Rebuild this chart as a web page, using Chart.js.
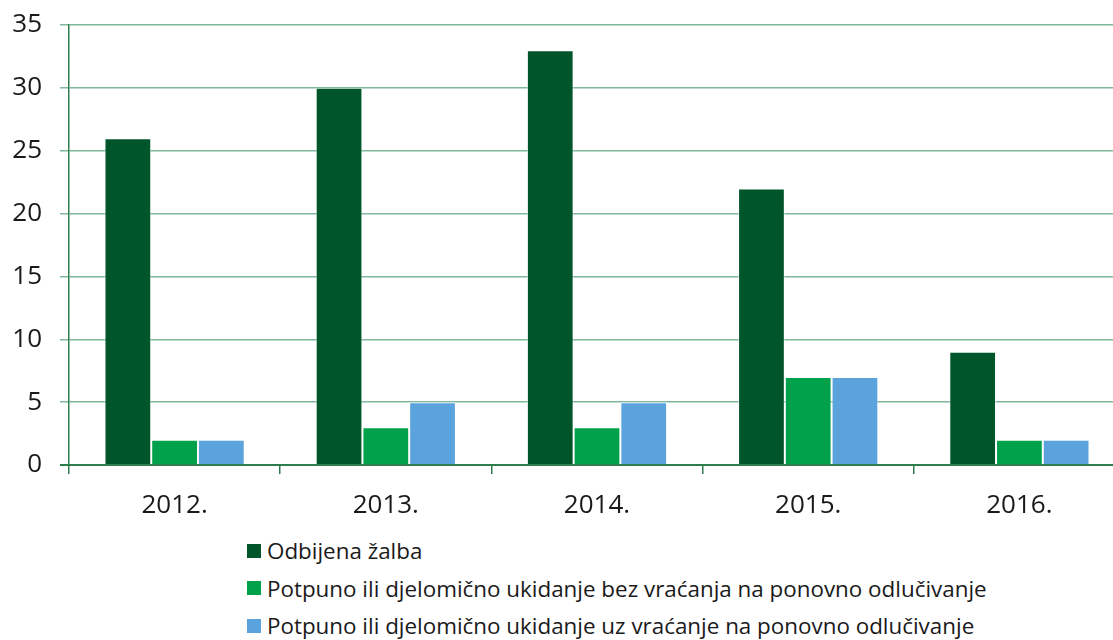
<!DOCTYPE html>
<html>
<head>
<meta charset="utf-8">
<script src="https://cdn.jsdelivr.net/npm/chart.js@4/dist/chart.umd.min.js"></script>
<style>
  html, body { margin: 0; padding: 0; background: #fff; overflow: hidden; }
  #wrap { position: relative; width: 1130px; height: 528px; }
  #legend { position: absolute; left: 247px; top: 532px; font-family: "Open Sans", sans-serif; font-size: 22.4px; color: #1a1a1a; }
  .lg-row { display: flex; align-items: center; height: 37.5px; }
  .lg-box { width: 14px; height: 14px; margin-right: 6px; }
</style>
</head>
<body>
<div id="wrap"><canvas id="chart"></canvas></div>
<div id="legend"></div>
<script>
const years = ['2012.', '2013.', '2014.', '2015.', '2016.'];
const odbijena = [26, 30, 33, 22, 9];
const bezVracanja = [2, 3, 3, 7, 2];
const uzVracanje = [2, 5, 5, 7, 2];
const seriesNames = [
  'Odbijena žalba',
  'Potpuno ili djelomično ukidanje bez vraćanja na ponovno odlučivanje',
  'Potpuno ili djelomično ukidanje uz vraćanje na ponovno odlučivanje'
];
const seriesColors = ['#00552b', '#00a14b', '#5ba3dc'];

const font = { family: '"Open Sans", sans-serif', size: 26 };
const axisGreen = '#2e7d4f';

const datasets = [odbijena, bezVracanja, uzVracanje].map((d, i) => ({
  label: seriesNames[i],
  data: d,
  backgroundColor: seriesColors[i],
  borderColor: 'rgba(255,255,255,0.55)',
  borderWidth: 1,
  barPercentage: 1,
  categoryPercentage: 0.664
}));

new Chart(document.getElementById('chart'), {
  type: 'bar',
  data: { labels: years, datasets: datasets },
  options: {
    responsive: true,
    maintainAspectRatio: false,
    animation: false,
    layout: { padding: { top: 25, right: 5, bottom: 0, left: 0 } },
    plugins: { legend: { display: false }, tooltip: { enabled: false } },
    scales: {
      x: {
        grid: { drawOnChartArea: false, drawTicks: true, tickLength: 9, color: axisGreen, lineWidth: 1.5 },
        border: { color: axisGreen, width: 2 },
        ticks: { font: font, color: '#1a1a1a', padding: 16 },
        afterFit: s => { s.height = 63; }
      },
      y: {
        min: 0, max: 35,
        ticks: { stepSize: 5, font: font, color: '#1a1a1a', padding: 18 },
        grid: {
          color: ctx => ctx.tick && ctx.tick.value === 0 ? axisGreen : '#7cb899',
          lineWidth: ctx => ctx.tick && ctx.tick.value === 0 ? 2 : 1.5,
          tickLength: 9
        },
        border: { color: axisGreen, width: 1.5 },
        // fixed axis width; drop the half-label padding so the top gridline sits on the layout padding
        afterFit: s => { s.width = 69; s.paddingTop = 0; s.paddingBottom = 0; }
      }
    }
  }
});

// legend laid out as a single column under the plot
const legend = document.getElementById('legend');
seriesNames.forEach((name, i) => {
  const row = document.createElement('div');
  row.className = 'lg-row';
  row.innerHTML = `<span class="lg-box" style="background:${seriesColors[i]}"></span><span>${name}</span>`;
  legend.appendChild(row);
});
</script>
</body>
</html>
